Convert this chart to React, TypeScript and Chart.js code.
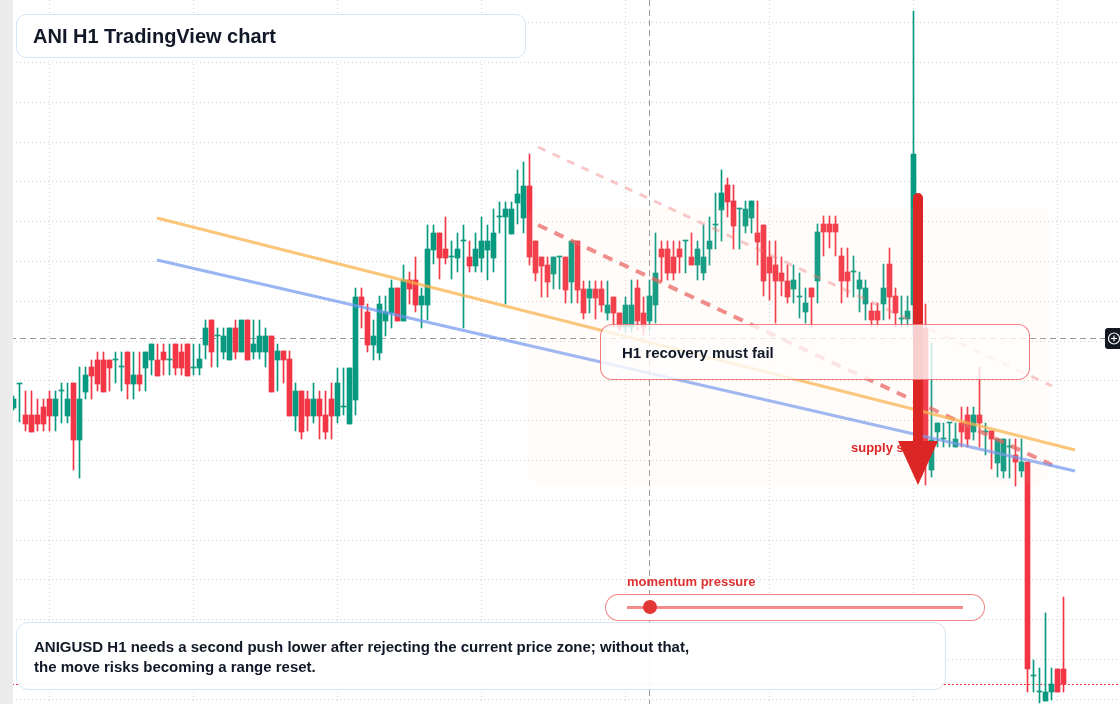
import React, { useEffect, useRef } from "react";
import { Chart, registerables } from "chart.js";

Chart.register(...registerables);

// ANIGUSD H1 candles (index 0..175), price units
const OPEN = [
  0.592, 0.616, 0.585, 0.585, 0.585, 0.593, 0.601, 0.584, 0.609, 0.584,
  0.617, 0.560, 0.608, 0.633, 0.640, 0.640, 0.640, 0.640, 0.633, 0.648,
  0.616, 0.625, 0.632, 0.640, 0.640, 0.648, 0.640, 0.656, 0.648, 0.656,
  0.632, 0.632, 0.655, 0.680, 0.664, 0.648, 0.640, 0.672, 0.648, 0.680,
  0.648, 0.648, 0.648, 0.664, 0.640, 0.649, 0.641, 0.584, 0.609, 0.601,
  0.584, 0.601, 0.585, 0.601, 0.584, 0.593, 0.576, 0.600, 0.703, 0.688,
  0.655, 0.647, 0.679, 0.687, 0.712, 0.679, 0.720, 0.720, 0.695, 0.695,
  0.750, 0.767, 0.751, 0.743, 0.742, 0.759, 0.743, 0.734, 0.742, 0.750,
  0.742, 0.783, 0.783, 0.766, 0.797, 0.782, 0.814, 0.759, 0.743, 0.735,
  0.726, 0.743, 0.743, 0.718, 0.759, 0.711, 0.702, 0.711, 0.711, 0.687,
  0.703, 0.687, 0.673, 0.673, 0.712, 0.687, 0.679, 0.695, 0.751, 0.751,
  0.743, 0.751, 0.759, 0.743, 0.735, 0.727, 0.751, 0.775, 0.790, 0.815,
  0.799, 0.791, 0.774, 0.782, 0.767, 0.775, 0.743, 0.735, 0.727, 0.719,
  0.711, 0.703, 0.688, 0.712, 0.719, 0.776, 0.776, 0.776, 0.744, 0.728,
  0.728, 0.711, 0.696, 0.689, 0.689, 0.696, 0.736, 0.704, 0.681, 0.681,
  0.695, 0.800, 0.672, 0.530, 0.568, 0.561, 0.577, 0.553, 0.577, 0.585,
  0.568, 0.585, 0.568, 0.569, 0.537, 0.529, 0.553, 0.545, 0.529, 0.538,
  0.324, 0.308, 0.299, 0.308, 0.331, 0.331,
];
const HIGH = [
  0.604, 0.616, 0.609, 0.609, 0.601, 0.601, 0.609, 0.609, 0.617, 0.617,
  0.617, 0.633, 0.633, 0.640, 0.648, 0.648, 0.640, 0.648, 0.648, 0.648,
  0.648, 0.648, 0.648, 0.656, 0.656, 0.656, 0.656, 0.656, 0.656, 0.656,
  0.656, 0.656, 0.680, 0.680, 0.672, 0.672, 0.672, 0.680, 0.680, 0.680,
  0.680, 0.680, 0.672, 0.664, 0.656, 0.649, 0.649, 0.617, 0.609, 0.609,
  0.617, 0.609, 0.609, 0.617, 0.632, 0.632, 0.632, 0.712, 0.712, 0.696,
  0.680, 0.704, 0.704, 0.720, 0.712, 0.735, 0.728, 0.743, 0.712, 0.775,
  0.775, 0.767, 0.783, 0.759, 0.767, 0.775, 0.759, 0.767, 0.783, 0.775,
  0.791, 0.798, 0.798, 0.798, 0.830, 0.838, 0.846, 0.759, 0.743, 0.743,
  0.743, 0.743, 0.743, 0.759, 0.759, 0.719, 0.719, 0.719, 0.719, 0.719,
  0.703, 0.687, 0.703, 0.720, 0.720, 0.703, 0.720, 0.767, 0.759, 0.759,
  0.759, 0.759, 0.759, 0.767, 0.759, 0.775, 0.783, 0.807, 0.830, 0.822,
  0.815, 0.791, 0.799, 0.799, 0.799, 0.775, 0.759, 0.759, 0.743, 0.735,
  0.735, 0.727, 0.712, 0.712, 0.776, 0.784, 0.784, 0.784, 0.752, 0.752,
  0.744, 0.728, 0.720, 0.697, 0.697, 0.736, 0.752, 0.712, 0.704, 0.704,
  0.989, 0.804, 0.696, 0.657, 0.577, 0.577, 0.577, 0.577, 0.593, 0.593,
  0.593, 0.633, 0.577, 0.569, 0.561, 0.561, 0.561, 0.561, 0.561, 0.538,
  0.340, 0.332, 0.387, 0.332, 0.331, 0.403,
];
const LOW = [
  0.590, 0.578, 0.569, 0.568, 0.569, 0.569, 0.569, 0.569, 0.577, 0.577,
  0.530, 0.522, 0.601, 0.601, 0.609, 0.608, 0.609, 0.617, 0.609, 0.601,
  0.601, 0.609, 0.609, 0.625, 0.624, 0.625, 0.625, 0.625, 0.625, 0.624,
  0.625, 0.625, 0.641, 0.633, 0.633, 0.641, 0.640, 0.641, 0.648, 0.640,
  0.641, 0.641, 0.633, 0.608, 0.609, 0.617, 0.584, 0.569, 0.561, 0.569,
  0.577, 0.561, 0.561, 0.561, 0.577, 0.585, 0.576, 0.585, 0.672, 0.648,
  0.640, 0.640, 0.664, 0.672, 0.679, 0.679, 0.696, 0.688, 0.672, 0.680,
  0.736, 0.721, 0.736, 0.721, 0.728, 0.672, 0.728, 0.728, 0.728, 0.720,
  0.728, 0.767, 0.696, 0.766, 0.776, 0.767, 0.735, 0.719, 0.703, 0.703,
  0.711, 0.711, 0.697, 0.697, 0.697, 0.681, 0.687, 0.681, 0.688, 0.680,
  0.673, 0.670, 0.668, 0.668, 0.670, 0.665, 0.670, 0.677, 0.718, 0.720,
  0.720, 0.727, 0.727, 0.735, 0.720, 0.720, 0.735, 0.751, 0.759, 0.783,
  0.751, 0.751, 0.767, 0.767, 0.735, 0.704, 0.700, 0.677, 0.704, 0.697,
  0.697, 0.682, 0.677, 0.673, 0.697, 0.744, 0.752, 0.744, 0.697, 0.703,
  0.703, 0.688, 0.680, 0.673, 0.673, 0.680, 0.681, 0.673, 0.673, 0.673,
  0.665, 0.665, 0.515, 0.523, 0.553, 0.553, 0.553, 0.553, 0.553, 0.553,
  0.560, 0.553, 0.545, 0.531, 0.523, 0.522, 0.522, 0.514, 0.523, 0.308,
  0.308, 0.297, 0.299, 0.300, 0.308, 0.308,
];
const CLOSE = [
  0.601, 0.616, 0.576, 0.568, 0.576, 0.576, 0.584, 0.601, 0.609, 0.601,
  0.560, 0.601, 0.625, 0.624, 0.616, 0.608, 0.632, 0.640, 0.633, 0.616,
  0.625, 0.616, 0.648, 0.656, 0.624, 0.640, 0.640, 0.632, 0.632, 0.624,
  0.632, 0.641, 0.672, 0.648, 0.664, 0.664, 0.672, 0.648, 0.680, 0.640,
  0.656, 0.664, 0.664, 0.608, 0.649, 0.640, 0.584, 0.609, 0.568, 0.584,
  0.601, 0.584, 0.568, 0.584, 0.617, 0.593, 0.632, 0.703, 0.695, 0.655,
  0.664, 0.696, 0.688, 0.712, 0.679, 0.720, 0.711, 0.695, 0.704, 0.751,
  0.767, 0.742, 0.742, 0.743, 0.751, 0.759, 0.734, 0.751, 0.759, 0.759,
  0.767, 0.783, 0.791, 0.791, 0.806, 0.814, 0.743, 0.727, 0.734, 0.718,
  0.743, 0.743, 0.710, 0.759, 0.710, 0.687, 0.711, 0.702, 0.695, 0.695,
  0.687, 0.673, 0.695, 0.695, 0.679, 0.673, 0.704, 0.727, 0.743, 0.727,
  0.727, 0.743, 0.759, 0.735, 0.751, 0.743, 0.759, 0.775, 0.807, 0.798,
  0.774, 0.791, 0.791, 0.799, 0.758, 0.719, 0.727, 0.719, 0.719, 0.703,
  0.720, 0.703, 0.697, 0.703, 0.768, 0.768, 0.768, 0.768, 0.719, 0.719,
  0.728, 0.720, 0.712, 0.680, 0.680, 0.712, 0.703, 0.687, 0.681, 0.689,
  0.846, 0.670, 0.542, 0.560, 0.577, 0.561, 0.577, 0.561, 0.568, 0.561,
  0.585, 0.577, 0.568, 0.561, 0.561, 0.561, 0.553, 0.538, 0.538, 0.331,
  0.324, 0.308, 0.308, 0.316, 0.308, 0.316,
];

// grid ticks (candle index / price)
const X_GRID = [6, 30, 54, 78, 102, 126, 150, 174];
const Y_GRID = [
  0.978, 0.938, 0.898, 0.858, 0.819, 0.779, 0.739, 0.699, 0.659, 0.62,
  0.58, 0.54, 0.5, 0.46, 0.421, 0.381, 0.341, 0.301,
];

// trend lines: [index, price]
const ORANGE_LINE = [[23.92, 0.782], [176.92, 0.55]];
const BLUE_LINE = [[23.92, 0.74], [176.92, 0.529]];
const UPPER_DASH = [[87.42, 0.853], [173.08, 0.614]];
const LOWER_DASH = [[87.42, 0.775], [173.08, 0.535]];

// crosshair
const CROSS_INDEX = 106;
const CROSS_PRICE = 0.662;

const X_MIN = -2.25;
const X_MAX = -2.25 + 1120 / 6;
const Y_MIN = 0.296;
const Y_MAX = 1.0;

const GREEN = "#089981";
const RED = "#f23645";
const FONT = '"Liberation Sans", Arial, Helvetica, sans-serif';

export default function App() {
  const ref = useRef<HTMLCanvasElement | null>(null);

  useEffect(() => {
    const canvas = ref.current;
    if (!canvas) return;
    const idx = OPEN.map((_, i) => i);
    const colors = idx.map((i) => (CLOSE[i] >= OPEN[i] ? GREEN : RED));
    const toPts = (arr: number[][]) => arr.map(([x, y]) => ({ x, y }));

    const bgPlugin = {
      id: "bgGrid",
      beforeDatasetsDraw(chart: any) {
        const { ctx, chartArea: a, scales } = chart;
        const xs = scales.x;
        const ys = scales.y;
        ctx.save();
        ctx.lineWidth = 1;
        ctx.strokeStyle = "#d2d2d2";
        ctx.setLineDash([1, 3]);
        Y_GRID.forEach((v) => {
          const p = Math.round(ys.getPixelForValue(v)) + 0.5;
          ctx.beginPath();
          ctx.moveTo(a.left, p);
          ctx.lineTo(a.right, p);
          ctx.stroke();
        });
        X_GRID.forEach((v) => {
          const p = Math.floor(xs.getPixelForValue(v)) + 0.5;
          ctx.beginPath();
          ctx.moveTo(p, a.top);
          ctx.lineTo(p, a.bottom);
          ctx.stroke();
        });
        // crosshair
        ctx.strokeStyle = "#9a9a9a";
        ctx.setLineDash([6, 4]);
        const cx = Math.floor(xs.getPixelForValue(CROSS_INDEX)) + 0.5;
        ctx.beginPath();
        ctx.moveTo(cx, a.top);
        ctx.lineTo(cx, a.bottom);
        ctx.stroke();
        const cy = Math.round(ys.getPixelForValue(CROSS_PRICE)) + 0.5;
        ctx.beginPath();
        ctx.moveTo(a.left, cy);
        ctx.lineTo(a.right, cy);
        ctx.stroke();
        // last price line
        ctx.strokeStyle = RED;
        ctx.setLineDash([2, 2]);
        const py = Math.round(ys.getPixelForValue(CLOSE[CLOSE.length - 1])) + 0.5;
        ctx.beginPath();
        ctx.moveTo(a.left, py);
        ctx.lineTo(a.right, py);
        ctx.stroke();
        ctx.restore();
      },
    };

    const chart = new Chart(canvas, {
      type: "bar",
      data: {
        datasets: [
          {
            type: "line",
            data: toPts(ORANGE_LINE),
            borderColor: "rgba(250,176,70,0.72)",
            borderWidth: 3,
            pointRadius: 0,
            fill: false,
            order: 1,
          } as any,
          {
            type: "line",
            data: toPts(BLUE_LINE),
            borderColor: "rgba(110,150,240,0.7)",
            borderWidth: 3,
            pointRadius: 0,
            fill: false,
            order: 1,
          } as any,
          {
            type: "line",
            data: toPts(UPPER_DASH),
            borderColor: "rgba(236,110,110,0.38)",
            borderWidth: 3,
            borderDash: [8, 8],
            pointRadius: 0,
            fill: false,
            order: 1,
          } as any,
          {
            type: "line",
            data: toPts(LOWER_DASH),
            borderColor: "rgba(232,90,90,0.72)",
            borderWidth: 4,
            borderDash: [10, 8],
            pointRadius: 0,
            fill: false,
            order: 1,
          } as any,
          {
            type: "bar",
            data: idx.map((i) => ({ x: i, y: [OPEN[i], CLOSE[i]] })),
            backgroundColor: colors,
            borderWidth: 0,
            barThickness: 5,
            minBarLength: 1,
            grouped: false,
            order: 2,
          } as any,
          {
            type: "bar",
            data: idx.map((i) => ({ x: i, y: [LOW[i], HIGH[i]] })),
            backgroundColor: colors,
            borderWidth: 0,
            barThickness: 1,
            minBarLength: 1,
            grouped: false,
            order: 3,
          } as any,
        ],
      },
      options: {
        animation: false,
        responsive: false,
        maintainAspectRatio: false,
        events: [],
        layout: { padding: 0 },
        plugins: { legend: { display: false }, tooltip: { enabled: false } },
        scales: {
          x: { type: "linear", display: false, min: X_MIN, max: X_MAX, offset: false },
          y: { type: "linear", display: false, min: Y_MIN, max: Y_MAX },
        },
      } as any,
      plugins: [bgPlugin],
    });
    return () => chart.destroy();
  }, []);

  const abs = (s: React.CSSProperties): React.CSSProperties => ({ position: "absolute", ...s });

  return (
    <div
      style={{
        position: "fixed",
        left: 0,
        top: 0,
        width: 1120,
        height: 704,
        overflow: "hidden",
        background: "#ffffff",
        fontFamily: FONT,
      }}
    >
      <canvas ref={ref} width={1120} height={704} style={abs({ left: 0, top: 0, width: 1120, height: 704 })} />
      {/* left strip */}
      <div style={abs({ left: 0, top: 0, width: 13, height: 704, background: "#ececec" })} />
      {/* zone */}
      <div
        style={abs({
          left: 527,
          top: 207,
          width: 523,
          height: 278,
          borderRadius: 16,
          background: "rgba(255,214,180,0.07)",
        })}
      />
      {/* supply label */}
      <div style={abs({ left: 851, top: 440, fontSize: 13, lineHeight: "16px", fontWeight: 700, color: "#dc2626", whiteSpace: "nowrap" })}>
        supply side
      </div>
      {/* arrow */}
      <svg width={1120} height={704} style={abs({ left: 0, top: 0 })}>
        <line x1={918} y1={198} x2={918} y2={446} stroke="#dc2626" strokeWidth={10} strokeLinecap="round" />
        <polygon points="898,441 938,441 918,485" fill="#dc2626" />
      </svg>
      {/* callout */}
      <div
        style={abs({
          left: 600,
          top: 324,
          width: 428,
          height: 54,
          borderRadius: 12,
          border: "1px solid rgba(236,84,84,0.75)",
          background: "rgba(255,255,255,0.78)",
        })}
      />
      <div style={abs({ left: 622, top: 344, fontSize: 15, lineHeight: "18px", fontWeight: 700, color: "#111827", whiteSpace: "nowrap" })}>
        H1 recovery must fail
      </div>
      {/* momentum */}
      <div style={abs({ left: 627, top: 574, fontSize: 13, lineHeight: "16px", fontWeight: 700, color: "#e03131", whiteSpace: "nowrap" })}>
        momentum pressure
      </div>
      <div
        style={abs({
          left: 605,
          top: 594,
          width: 378,
          height: 25,
          borderRadius: 14,
          border: "1px solid rgba(236,84,84,0.7)",
          background: "#ffffff",
        })}
      />
      <div style={abs({ left: 627, top: 606, width: 336, height: 3, background: "rgba(236,100,100,0.75)" })} />
      <div style={abs({ left: 643, top: 600, width: 14, height: 14, borderRadius: 7, background: "#e23535" })} />
      {/* bottom note */}
      <div
        style={abs({
          left: 16,
          top: 622,
          width: 928,
          height: 66,
          borderRadius: 12,
          border: "1px solid #d6e4f8",
          background: "rgba(255,255,255,0.92)",
        })}
      />
      <div style={abs({ left: 34, top: 637, fontSize: 15, lineHeight: "20px", fontWeight: 700, color: "#111827", whiteSpace: "nowrap" })}>
        ANIGUSD H1 needs a second push lower after rejecting the current price zone; without that,
        <br />
        the move risks becoming a range reset.
      </div>
      {/* title */}
      <div
        style={abs({
          left: 16,
          top: 14,
          width: 508,
          height: 42,
          borderRadius: 10,
          border: "1px solid #d6e4f8",
          background: "#ffffff",
        })}
      />
      <div style={abs({ left: 33, top: 24, fontSize: 20, lineHeight: "24px", fontWeight: 700, color: "#111827", whiteSpace: "nowrap" })}>
        ANI H1 TradingView chart
      </div>
      {/* crosshair price label */}
      <div style={abs({ left: 1105, top: 328, width: 18, height: 21, borderRadius: 3, background: "#131722" })}>
        <svg width={18} height={21} style={abs({ left: 0, top: 0 })}>
          <circle cx={9} cy={10.5} r={5.5} stroke="#ffffff" strokeWidth={1.2} fill="none" />
          <line x1={6} y1={10.5} x2={12} y2={10.5} stroke="#ffffff" strokeWidth={1.2} />
          <line x1={9} y1={7.5} x2={9} y2={13.5} stroke="#ffffff" strokeWidth={1.2} />
        </svg>
      </div>
    </div>
  );
}
